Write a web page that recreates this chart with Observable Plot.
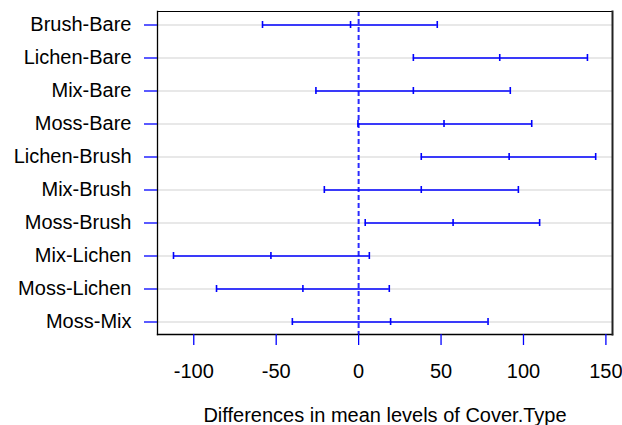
<!DOCTYPE html>
<html>
<head>
<meta charset="utf-8">
<script src="https://cdn.jsdelivr.net/npm/d3@7"></script>
<script src="https://cdn.jsdelivr.net/npm/@observablehq/plot@0.6"></script>
<style>
  html, body { margin: 0; padding: 0; background: #fff; }
  svg { font-family: "Liberation Sans", Arial, sans-serif; }
</style>
</head>
<body>
<div id="chart"></div>
<script>
const comparisons = ["Brush-Bare", "Lichen-Bare", "Mix-Bare", "Moss-Bare", "Lichen-Brush",
  "Mix-Brush", "Moss-Brush", "Mix-Lichen", "Moss-Lichen", "Moss-Mix"];
const lwr  = [-58.3, 33.2, -25.9, -0.4, 38.0, -20.8, 4.0, -112.3, -86.2, -40.2];
const diff = [-4.9, 85.6, 33.2, 51.8, 91.3, 38.0, 57.3, -53.2, -33.8, 19.4];
const upr  = [47.7, 138.8, 92.0, 105.0, 143.8, 96.9, 109.8, 6.5, 18.6, 78.5];
const xTicks = [-100, -50, 0, 50, 100, 150];
const xTitle = "Differences in mean levels of Cover.Type";

const rows = comparisons.map((c, i) => ({c, lwr: lwr[i], diff: diff[i], upr: upr[i]}));
const capPts = rows.flatMap(r => [{c: r.c, v: r.lwr}, {c: r.c, v: r.diff}, {c: r.c, v: r.upr}]);
const FS = 20;

const chart = Plot.plot({
  width: 622,
  height: 425,
  marginLeft: 157,
  marginRight: 10,
  marginTop: 11,
  marginBottom: 91,
  style: {fontFamily: "'Liberation Sans', Arial, sans-serif", background: "#fff"},
  x: {domain: [-122, 154], ticks: xTicks, label: null},
  y: {type: "band", domain: comparisons, paddingInner: 0.79, paddingOuter: 0.25, label: null},
  marks: [
    Plot.gridY({stroke: "#d2d2d2", strokeOpacity: 1, strokeWidth: 1.2}),
    Plot.ruleX([0], {stroke: "#2a2aff", strokeWidth: 2, strokeDasharray: "5,3"}),
    Plot.ruleY(rows, {y: "c", x1: "lwr", x2: "upr", stroke: "blue", strokeWidth: 1.4}),
    Plot.tickX(capPts, {x: "v", y: "c", stroke: "blue", strokeWidth: 1.6}),
    Plot.frame({anchor: "top", stroke: "black", strokeWidth: 1}),
    Plot.frame({anchor: "left", stroke: "black", strokeWidth: 1.3}),
    Plot.frame({anchor: "bottom", stroke: "black", strokeWidth: 1.3}),
    Plot.frame({anchor: "right", stroke: "#222", strokeWidth: 2}),
    Plot.axisX({anchor: "bottom", ticks: xTicks, tickSize: 11, tickPadding: 18, stroke: "blue", strokeWidth: 1.3, fill: "black", fontSize: FS, label: null, tickFormat: d => String(d)}),
    Plot.axisY({anchor: "left", tickSize: 13, tickPadding: 13, stroke: "blue", strokeWidth: 1.3, fill: "black", fontSize: FS, label: null}),
    Plot.text([xTitle], {text: d => d, frameAnchor: "bottom", dy: 81, fontSize: FS, fill: "black", lineAnchor: "middle"})
  ]
});
document.getElementById("chart").appendChild(chart);
</script>
</body>
</html>
